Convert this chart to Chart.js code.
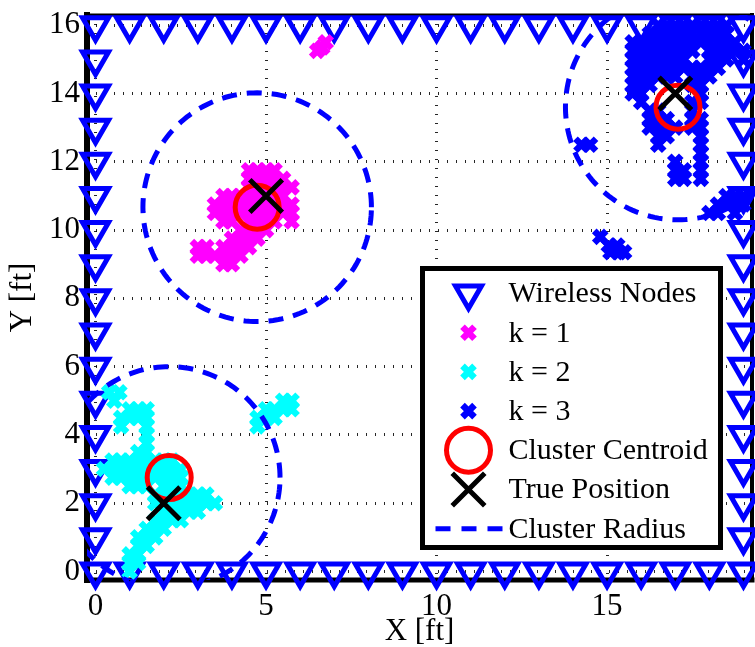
<!DOCTYPE html>
<html>
<head>
<meta charset="utf-8">
<title>Clusters</title>
<script src="https://cdn.jsdelivr.net/npm/chart.js@4.4.0/dist/chart.umd.min.js"></script>
<style>
  html, body { margin: 0; padding: 0; background: #fff; }
  #wrap { width: 755px; height: 647px; }
</style>
</head>
<body>
<div id="wrap"><canvas id="graphe" width="755" height="647"></canvas></div>
<script>
// AXES
const xTicks = [0, 5, 10, 15];
const yTicks = [0, 2, 4, 6, 8, 10, 12, 14, 16];

// NOEUDS SANS FIL : un par pied sur le bord de la piece
const nodeCols = [0, 1, 2, 3, 4, 5, 6, 7, 8, 9, 10, 11, 12, 13, 14, 15, 16, 17, 18, 19];
const nodeRows = [0, 1, 2, 3, 4, 5, 6, 7, 8, 9, 10, 11, 12, 13, 14, 15, 16];

// points de chaque cluster, par ligne : [y, [x...]]
const k1Rows = [
    [11.75, [4.5, 4.75, 5, 5.25]],
    [11.5, [4.5, 4.75, 5, 5.25, 5.5]],
    [11.25, [4.5, 4.75, 5, 5.25, 5.5, 5.75]],
    [11, [3.75, 4, 4.25, 4.5, 4.75, 5, 5.25, 5.5]],
    [10.75, [3.5, 3.75, 4, 4.25, 4.5, 4.75, 5, 5.25, 5.5, 5.75]],
    [10.5, [3.5, 3.75, 4, 4.25, 4.5, 4.75, 5, 5.25, 5.5, 5.75]],
    [10.25, [3.75, 4, 4.5, 4.75, 5, 5.25, 5.75]],
    [10, [4.25, 4.5, 4.75, 5]],
    [9.75, [4, 4.25, 4.5, 4.75]],
    [9.5, [3, 3.25, 3.75, 4, 4.25, 4.5]],
    [9.25, [3, 3.25, 3.5, 3.75, 4, 4.25]],
    [9, [3.75, 4]],
    [15.5, [6.75]],
    [15.35, [6.65]],
    [15.25, [6.5]]
];

const k2Rows = [
    [5.25, [0.4, 0.7]],
    [5, [0.55]],
    [4.75, [1, 1.25, 1.5]],
    [4.5, [0.75, 1, 1.25, 1.5]],
    [4.25, [0.75, 1.5]],
    [4, [1.5]],
    [3.75, [1.5]],
    [3.5, [1.25, 1.5]],
    [3.25, [0.5, 0.75, 1, 1.25, 1.5, 1.75, 2, 2.25]],
    [3, [0.25, 0.5, 0.75, 1, 1.25, 1.5, 1.75, 2, 2.25, 2.5]],
    [2.75, [0.5, 0.75, 1, 1.25, 1.5, 1.75, 2, 2.25, 2.5]],
    [2.5, [1, 1.25, 1.5, 2, 2.25, 2.5]],
    [2.25, [1.75, 2, 2.25, 2.5, 2.75, 3, 3.25]],
    [2, [1.75, 2, 2.25, 2.5, 2.75, 3, 3.25, 3.5]],
    [1.75, [2, 2.25, 2.5, 2.75, 3]],
    [1.5, [1.75, 2, 2.25, 2.5]],
    [1.25, [1.5, 1.75, 2]],
    [1, [1.25, 1.5, 1.75]],
    [0.75, [1.25, 1.5]],
    [0.5, [1, 1.25]],
    [0.25, [1, 1.25]],
    [0, [1]],
    [5, [5.5, 5.75]],
    [4.75, [5, 5.25, 5.5, 5.75]],
    [4.5, [4.75, 5, 5.25]],
    [4.25, [4.75]]
];

const k3Rows = [
    [16, [16.5, 16.75, 17, 17.25, 17.5, 17.75, 18, 18.25, 18.5]],
    [15.75, [16.25, 16.5, 16.75, 17, 17.25, 17.5, 17.75, 18, 18.25, 18.5]],
    [15.5, [15.75, 16, 16.25, 16.5, 16.75, 17, 17.25, 17.5, 17.75, 18, 18.25, 18.5, 18.75]],
    [15.25, [15.75, 16, 16.25, 16.5, 16.75, 17, 17.25, 17.5, 18, 18.25, 18.5, 18.75, 19]],
    [15, [15.75, 16, 16.25, 16.5, 16.75, 17, 17.25, 18, 18.25, 18.5, 19]],
    [14.75, [15.75, 16, 16.25, 16.5, 16.75, 17, 17.25, 17.5, 17.75, 18, 18.25]],
    [14.5, [15.75, 16, 16.25, 16.5, 16.75, 17, 17.5, 17.75, 18]],
    [14.25, [15.75, 16, 16.25, 17.5, 17.75]],
    [14, [15.75, 16, 17.75]],
    [13.75, [16, 17.5, 17.75]],
    [13.5, [16.25, 16.5, 17.5]],
    [13.25, [16.25, 16.5, 16.75, 17.5, 17.75]],
    [13, [16.25, 16.5, 16.75, 17, 17.5, 17.75]],
    [12.75, [16.5, 16.75, 17.75]],
    [12.5, [16.5, 17.75, 14.25, 14.5]],
    [12.25, [17.75]],
    [12, [17, 17.75]],
    [11.75, [17, 17.25, 17.75]],
    [11.5, [17, 17.25, 17.75]],
    [11, [18.5, 18.75, 19]],
    [10.75, [18.25, 18.5, 18.75, 19]],
    [10.5, [18, 18.25, 18.75]],
    [9.8, [14.8]],
    [9.55, [15.05, 15.3]],
    [9.35, [15.1, 15.35, 15.5]]
];

// centroides, positions reelles et rayons des clusters
const centroidX = [4.74, 2.16, 17.08];
const centroidY = [10.67, 2.75, 13.6];
const trueX = [5, 2, 17];
const trueY = [11, 2, 14];
const clusterRadius = [3.35, 3.25, 3.3];

const legendLabels = ['Wireless Nodes', 'k = 1', 'k = 2', 'k = 3', 'Cluster Centroid', 'True Position', 'Cluster Radius'];

// construire les listes de points
function lignesVersPoints(rows) {
    let pts = [];
    rows.forEach(r => {
        r[1].forEach(x => pts.push({ x: x, y: r[0] }));
    });
    return pts;
}

let nodePoints = [];
nodeCols.forEach(c => {
    nodePoints.push({ x: c, y: nodeRows[0] });
    nodePoints.push({ x: c, y: nodeRows[nodeRows.length - 1] });
});
nodeRows.slice(1, -1).forEach(r => {
    nodePoints.push({ x: nodeCols[0], y: r });
    nodePoints.push({ x: nodeCols[nodeCols.length - 1], y: r });
});

function cercle(cx, cy, r) {
    let pts = [];
    for (let i = 0; i <= 180; i++) {
        const t = i / 180 * 2 * Math.PI;
        pts.push({ x: cx + r * Math.cos(t), y: cy + r * Math.sin(t) });
    }
    return pts;
}

const BLEU = '#0000ff';
const police = '"Liberation Serif", "Times New Roman", serif';

function clusterSet(label, rows, couleur, ordre) {
    return {
        label: label,
        data: lignesVersPoints(rows),
        pointStyle: 'crossRot',
        pointRadius: 8.5,
        pointBorderWidth: 6.5,
        pointBorderColor: couleur,
        pointBackgroundColor: couleur,
        clip: false,
        order: ordre
    };
}

let datasets = [
    {
        label: legendLabels[0],
        data: nodePoints,
        pointStyle: 'triangle',
        pointRotation: 180,
        pointRadius: 15,
        pointBorderWidth: 5,
        pointBorderColor: BLEU,
        pointBackgroundColor: 'rgba(0,0,0,0)',
        clip: false,
        order: 6
    },
    clusterSet(legendLabels[1], k1Rows, '#ff00ff', 3),
    clusterSet(legendLabels[2], k2Rows, '#00ffff', 4),
    clusterSet(legendLabels[3], k3Rows, BLEU, 5),
    {
        label: legendLabels[4],
        data: centroidX.map((x, i) => ({ x: x, y: centroidY[i] })),
        pointStyle: 'circle',
        pointRadius: 22,
        pointBorderWidth: 5,
        pointBorderColor: '#ff0000',
        pointBackgroundColor: 'rgba(0,0,0,0)',
        clip: false,
        order: 2
    },
    {
        label: legendLabels[5],
        data: trueX.map((x, i) => ({ x: x, y: trueY[i] })),
        pointStyle: 'crossRot',
        pointRadius: 23,
        pointBorderWidth: 5,
        pointBorderColor: '#000000',
        clip: false,
        order: 1
    }
];

clusterRadius.forEach((r, i) => {
    datasets.push({
        label: legendLabels[6],
        data: cercle(centroidX[i], centroidY[i], r),
        showLine: true,
        pointRadius: 0,
        borderColor: BLEU,
        borderWidth: 5,
        borderDash: [15, 10],
        fill: false,
        tension: 0,
        order: 0
    });
});

// cadre noir autour des axes
const cadrePlugin = {
    id: 'cadre',
    beforeDatasetsDraw(chart) {
        const ctx = chart.ctx;
        const a = chart.chartArea;
        ctx.save();
        ctx.strokeStyle = '#000';
        ctx.lineCap = 'square';
        ctx.lineWidth = 6;
        ctx.beginPath(); ctx.moveTo(a.left, a.top); ctx.lineTo(a.left, a.bottom); ctx.stroke();
        ctx.lineWidth = 5;
        ctx.beginPath(); ctx.moveTo(a.left, a.bottom); ctx.lineTo(a.right, a.bottom); ctx.stroke();
        ctx.lineWidth = 4;
        ctx.beginPath(); ctx.moveTo(a.right, a.top); ctx.lineTo(a.right, a.bottom); ctx.stroke();
        ctx.lineWidth = 3;
        ctx.beginPath(); ctx.moveTo(a.left, a.top); ctx.lineTo(a.right, a.top); ctx.stroke();
        ctx.restore();
    }
};

// legende dans le coin en bas a droite
const legendePlugin = {
    id: 'legende',
    afterDraw(chart) {
        const ctx = chart.ctx;
        const a = chart.chartArea;
        const w = 298, h = 279;
        const left = a.right - 31.5 - w;
        const top = a.bottom - 32.5 - h;
        ctx.save();
        ctx.fillStyle = '#fff';
        ctx.fillRect(left, top, w, h);
        ctx.strokeStyle = '#000';
        ctx.lineWidth = 5;
        ctx.strokeRect(left, top, w, h);

        const sx = left + 46;
        const tx = left + 86;
        legendLabels.forEach((lab, i) => {
            const y = top + 25 + i * 39.2;
            if (i < 6) {
                const ds = datasets[i];
                ctx.strokeStyle = ds.pointBorderColor;
                ctx.fillStyle = 'rgba(0,0,0,0)';
                ctx.lineWidth = ds.pointBorderWidth;
                Chart.helpers.drawPoint(ctx, {
                    pointStyle: ds.pointStyle,
                    rotation: ds.pointRotation || 0,
                    radius: ds.pointRadius,
                    borderWidth: ds.pointBorderWidth
                }, sx, y);
            } else {
                ctx.strokeStyle = BLEU;
                ctx.lineWidth = 5;
                ctx.setLineDash([15, 11]);
                ctx.beginPath();
                ctx.moveTo(sx - 33, y);
                ctx.lineTo(sx + 36, y);
                ctx.stroke();
                ctx.setLineDash([]);
            }
            ctx.fillStyle = '#000';
            ctx.font = '30px ' + police;
            ctx.textAlign = 'left';
            ctx.textBaseline = 'middle';
            ctx.fillText(lab, tx, y + 1);
        });
        ctx.restore();
    }
};

// pas de marge automatique des graduations : la zone du graphe est fixee
function sansMarge(s) {
    s.paddingLeft = 0;
    s.paddingRight = 0;
    s.paddingTop = 0;
    s.paddingBottom = 0;
}

const grille = { color: 'rgba(0,0,0,0.85)', lineWidth: 3, drawTicks: false };
const bordure = { display: false, dash: [1, 8] };

let ctx = document.getElementById('graphe').getContext('2d');
let graphe = new Chart(ctx, {
    type: 'scatter',
    data: { datasets: datasets },
    options: {
        responsive: false,
        animation: false,
        devicePixelRatio: 1,
        events: [],
        layout: { autoPadding: false, padding: { top: 15, right: 3, left: 0, bottom: 0 } },
        plugins: {
            legend: { display: false },
            tooltip: { enabled: false }
        },
        scales: {
            x: {
                type: 'linear',
                min: -0.25,
                max: 19.25,
                afterBuildTicks: s => { s.ticks = xTicks.map(v => ({ value: v })); },
                afterFit: s => { s.height = 67; sansMarge(s); },
                ticks: {
                    color: '#000',
                    font: { family: police, size: 31 },
                    padding: 8,
                    maxRotation: 0,
                    autoSkip: false,
                    callback: v => String(v)
                },
                title: {
                    display: true,
                    text: 'X [ft]',
                    color: '#000',
                    font: { family: police, size: 31 },
                    padding: { top: 0, bottom: -3 }
                },
                grid: grille,
                border: bordure
            },
            y: {
                type: 'linear',
                min: -0.25,
                max: 16.3,
                afterBuildTicks: s => { s.ticks = yTicks.map(v => ({ value: v })); },
                afterFit: s => { s.width = 87; sansMarge(s); },
                ticks: {
                    color: '#000',
                    font: { family: police, size: 31 },
                    padding: 7,
                    autoSkip: false,
                    callback: v => String(v)
                },
                title: {
                    display: true,
                    text: 'Y [ft]',
                    color: '#000',
                    font: { family: police, size: 31 },
                    padding: { top: 4, bottom: 0 }
                },
                grid: grille,
                border: bordure
            }
        }
    },
    plugins: [cadrePlugin, legendePlugin]
});
</script>
</body>
</html>
